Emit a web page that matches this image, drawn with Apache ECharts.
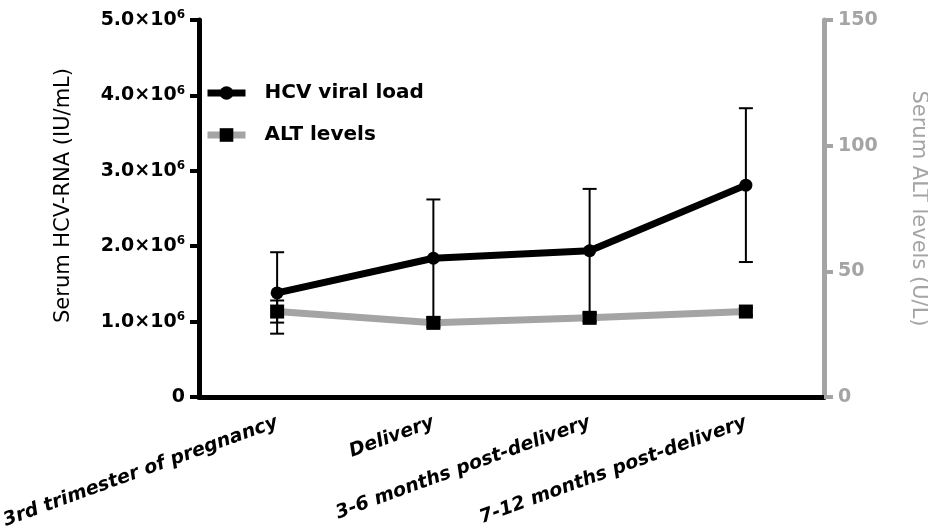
<!DOCTYPE html>
<html>
<head>
<meta charset="utf-8">
<script src="https://cdn.jsdelivr.net/npm/echarts@6/dist/echarts.min.js"></script>
<style>
  html, body { margin: 0; padding: 0; background: #fff; }
  #chart { width: 928px; height: 528px; }
</style>
</head>
<body>
<div id="chart"></div>
<script>
// Time points
const categories = [
  '3rd trimester of pregnancy',
  'Delivery',
  '3-6 months post-delivery',
  '7-12 months post-delivery'
];

// Serum HCV-RNA (IU/mL): mean and error
const hcvMean = [1.38e6, 1.84e6, 1.94e6, 2.81e6];
const hcvErr = [0.54e6, 0.78e6, 0.82e6, 1.02e6];

// Serum ALT (U/L): mean and error
const altMean = [34, 29.5, 31.5, 34];
const altErr = [4.4, 1.5, 1.5, 1.5];

// Axis ranges
const hcvAxisMax = 5e6;
const hcvAxisStep = 1e6;
const altAxisMax = 150;
const altAxisStep = 50;

const FONT = 'DejaVu Sans';
const GREY = '#a4a4a4';

function errorRenderer(means, errs) {
  return function (params, api) {
    const i = api.value(0);
    const top = api.coord([i, means[i] + errs[i]]);
    const bot = api.coord([i, means[i] - errs[i]]);
    const half = 7;
    const style = { stroke: '#000', lineWidth: 2 };
    return {
      type: 'group',
      children: [
        { type: 'line', shape: { x1: top[0], y1: top[1], x2: bot[0], y2: bot[1] }, style },
        { type: 'line', shape: { x1: top[0] - half, y1: top[1], x2: top[0] + half, y2: top[1] }, style },
        { type: 'line', shape: { x1: bot[0] - half, y1: bot[1], x2: bot[0] + half, y2: bot[1] }, style }
      ]
    };
  };
}

const chart = echarts.init(document.getElementById('chart'), null, { renderer: 'canvas' });

chart.setOption({
  animation: false,
  backgroundColor: '#fff',
  grid: { left: 199, right: 104, top: 20, bottom: 131, containLabel: false, outerBoundsMode: 'none' },
  legend: {
    orient: 'vertical',
    left: 199,
    top: 78,
    itemWidth: 38,
    itemHeight: 17,
    itemGap: 22,
    data: ['HCV viral load', 'ALT levels'],
    lineStyle: { width: 7 },
    textStyle: {
      fontFamily: FONT, fontWeight: 'bold', fontSize: 20, color: '#000',
      padding: [0, 0, 0, 14]
    }
  },
  xAxis: {
    type: 'category',
    data: categories,
    boundaryGap: true,
    axisLine: { lineStyle: { color: '#000', width: 5 } },
    axisTick: { alignWithLabel: true, length: 8, lineStyle: { color: '#000', width: 5, cap: 'round' } },
    axisLabel: {
      rotate: 20,
      margin: 25,
      interval: 0,
      fontFamily: FONT, fontWeight: 'bold', fontStyle: 'italic', fontSize: 19, color: '#000'
    },
    splitLine: { show: false }
  },
  yAxis: [
    {
      type: 'value',
      position: 'left',
      min: 0,
      max: hcvAxisMax,
      interval: hcvAxisStep,
      name: 'Serum HCV-RNA (IU/mL)',
      nameLocation: 'middle',
      nameGap: 125,
      nameRotate: 90,
      nameTextStyle: { fontFamily: FONT, fontSize: 21, color: '#000', padding: [0, 0, 0, 26] },
      axisLine: { show: true, lineStyle: { color: '#000', width: 5 } },
      axisTick: { show: true, length: 9, lineStyle: { color: '#000', width: 4 } },
      axisLabel: {
        margin: 14,
        formatter: function (v) {
          if (v === 0) return '{a|0}';
          return '{a|' + (v / 1e6).toFixed(1) + '×10}{s|6}';
        },
        rich: {
          a: { fontFamily: FONT, fontWeight: 'bold', fontSize: 19, color: '#000' },
          s: { fontFamily: FONT, fontWeight: 'bold', fontSize: 12, color: '#000', padding: [0, 0, 10, 0] }
        }
      },
      splitLine: { show: false }
    },
    {
      type: 'value',
      position: 'right',
      min: 0,
      max: altAxisMax,
      interval: altAxisStep,
      name: 'Serum ALT levels (U/L)',
      nameLocation: 'middle',
      nameGap: 84,
      nameRotate: -90,
      nameTextStyle: { fontFamily: FONT, fontSize: 21, color: GREY },
      axisLine: { show: true, lineStyle: { color: GREY, width: 5 } },
      axisTick: { show: true, length: 9, lineStyle: { color: GREY, width: 4 } },
      axisLabel: {
        margin: 14,
        fontFamily: FONT, fontWeight: 'bold', fontSize: 19, color: GREY
      },
      splitLine: { show: false }
    }
  ],
  series: [
    {
      name: 'ALT levels',
      type: 'line',
      yAxisIndex: 1,
      data: altMean,
      symbol: 'rect',
      symbolSize: 14,
      lineStyle: { color: GREY, width: 7 },
      itemStyle: { color: '#000' },
      z: 2
    },
    {
      name: 'ALT error',
      type: 'custom',
      yAxisIndex: 1,
      data: altMean.map((m, i) => [i, m]),
      renderItem: errorRenderer(altMean, altErr),
      z: 3
    },
    {
      name: 'HCV viral load',
      type: 'line',
      yAxisIndex: 0,
      data: hcvMean,
      symbol: 'circle',
      symbolSize: 13,
      lineStyle: { color: '#000', width: 7 },
      itemStyle: { color: '#000' },
      z: 4
    },
    {
      name: 'HCV error',
      type: 'custom',
      yAxisIndex: 0,
      data: hcvMean.map((m, i) => [i, m]),
      renderItem: errorRenderer(hcvMean, hcvErr),
      z: 5
    }
  ]
});
</script>
</body>
</html>
